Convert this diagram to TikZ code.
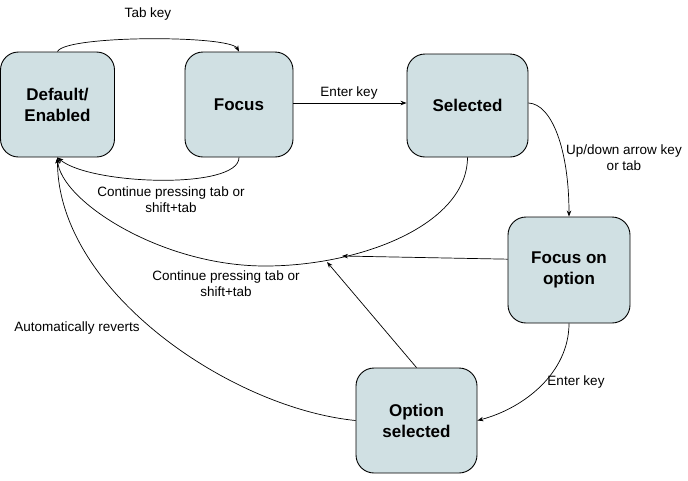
\documentclass[tikz,border=0pt]{standalone}
\usepackage{fontspec}
\setmainfont{Liberation Sans}
\usetikzlibrary{arrows.meta}
\definecolor{statefill}{RGB}{208,224,227}
\tikzset{
  state/.style={draw, rounded corners=18pt, fill=statefill, line width=0.9pt, inner sep=0pt,
    align=center, font=\fontsize{17}{21}\selectfont\bfseries},
  lbl/.style={align=center, font=\fontsize{13.5}{15.5}\selectfont},
  arr/.style={-{Stealth[length=6pt,width=4.5pt]}, line width=0.7pt},
}
\begin{document}
\begin{tikzpicture}[x=1pt,y=-1pt]
    \useasboundingbox (0,0) rectangle (688,480);

    % states
    \node[state, minimum width=114pt, minimum height=105pt] (default) at (57.5,104.5) {Default/\\Enabled};
    \node[state, minimum width=108pt, minimum height=105pt] (focus) at (239,104.5) {Focus};
    \node[state, minimum width=121pt, minimum height=103pt] (selected) at (467.5,105.5) {Selected};
    \node[state, minimum width=122pt, minimum height=106pt] (focusopt) at (569,270) {Focus on\\option};
    \node[state, minimum width=121pt, minimum height=105pt] (optsel) at (416.5,420.5) {Option\\selected};

    % points where the side arrows meet the long curve
    \coordinate (m1) at (342,256);
    \coordinate (m2) at (327,262);

    \draw[arr] (default.north) .. controls (65,35) and (230,35) .. (focus.north);
    \draw[arr] (focus.east |- 0,103) -- (selected.west |- 0,103);
    \draw[arr] (focus.south) .. controls (239,190) and (90,185) .. (default.south);
    \draw[arr] (selected.south) .. controls (467,225) and (360,266) .. (265,266)
        .. controls (160,266) and (60,200) .. (default.south);
    \draw[arr] (focusopt.170) -- (m1);
    \draw[arr] (optsel.north) -- (m2);
    \draw[arr] (selected.east |- 0,103) .. controls (552,104) and (569,150) .. (focusopt.north);
    \draw[arr] (focusopt.south) .. controls (569,372) and (525,408) .. (optsel.west -| optsel.east);
    \draw[arr] (optsel.west) .. controls (230,408) and (57,290) .. (default.south);

    % labels
    \node[lbl] (ltab) at (148,14) {Tab key};
    \node[lbl] (lenter) at (349,93) {Enter key};
    \node[lbl] (lcont1) at (171,199.5) {Continue pressing tab or\\shift+tab};
    \node[lbl] (lcont2) at (226,283.5) {Continue pressing tab or\\shift+tab};
    \node[lbl] (lupdown) at (624,157.5) {Up/down arrow key\\or tab};
    \node[lbl] (lenter2) at (576,382) {Enter key};
    \node[lbl] (lauto) at (77,328) {Automatically reverts};
\end{tikzpicture}
\end{document}
